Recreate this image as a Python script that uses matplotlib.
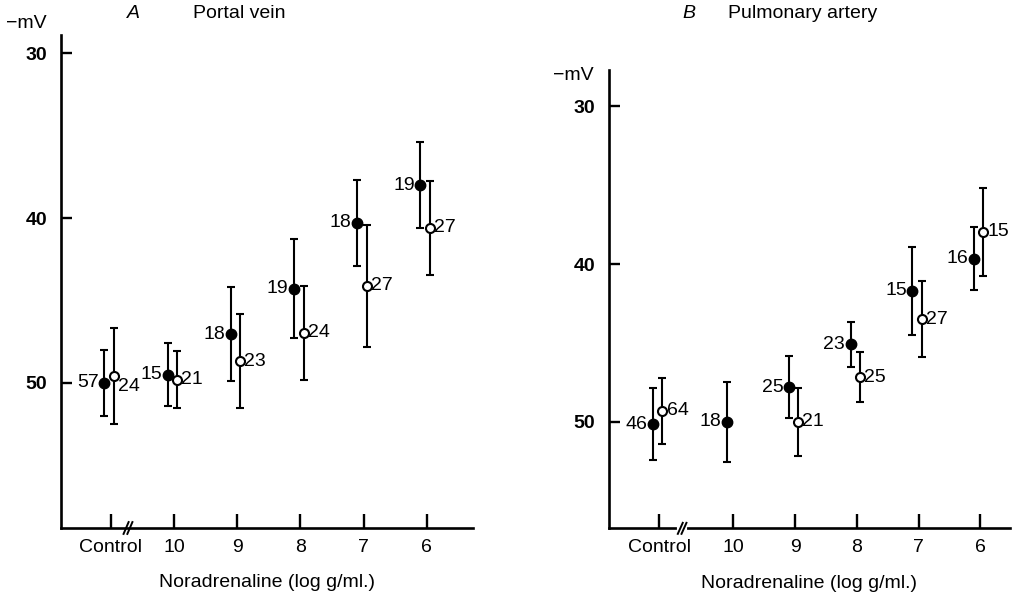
import matplotlib
matplotlib.use("Agg")
import matplotlib.pyplot as plt
from matplotlib.transforms import blended_transform_factory

plt.rcParams["font.family"] = ["Liberation Sans", "DejaVu Sans"]

# Categories (x ticks)
dose_labels = ["Control", "10", "9", "8", "7", "6"]

# Panel A - Portal vein (membrane potential, -mV)
a_filled_mean = [50.0, 49.5, 47.05, 44.3, 40.3, 38.0]
a_filled_err = [2.0, 1.9, 2.85, 3.0, 2.6, 2.6]
a_filled_n = ["57", "15", "18", "19", "18", "19"]
a_open_mean = [49.6, 49.8, 48.7, 46.95, 44.1, 40.6]
a_open_err = [2.9, 1.75, 2.85, 2.85, 3.7, 2.85]
a_open_n = ["24", "21", "23", "24", "27", "27"]

# Panel B - Pulmonary artery
b_filled_mean = [50.15, 50.0, 47.8, 45.1, 41.7, 39.66]
b_filled_err = [2.3, 2.55, 1.95, 1.4, 2.8, 2.0]
b_filled_n = ["46", "18", "25", "23", "15", "16"]
b_open_mean = [49.3, None, 50.0, 47.17, 43.5, 37.95]
b_open_err = [2.1, None, 2.15, 1.6, 2.4, 2.8]
b_open_n = ["64", None, "21", "25", "27", "15"]

FS = 14

fig = plt.figure(figsize=(10.18, 5.97), dpi=100)


def panel(rect, ctrl_pos, xlim, ylim, brk, gap, fm, fe, fn, om, oe, on):
    ax = fig.add_axes(rect)
    xs = [ctrl_pos, 1, 2, 3, 4, 5]
    for i, x in enumerate(xs):
        ax.errorbar(x - 0.1, fm[i], yerr=fe[i], fmt="o", color="black",
                    ms=7.5, elinewidth=1.5, capsize=2.8, capthick=1.5)
        ax.annotate(fn[i], (x - 0.1, fm[i]), xytext=(-4, 0),
                    textcoords="offset points", ha="right", va="center",
                    fontsize=FS)
        if om[i] is None:
            continue
        ax.errorbar(x + 0.05, om[i], yerr=oe[i], fmt="o", color="black",
                    mfc="white", mec="black", mew=1.5, ms=6.5,
                    elinewidth=1.5, capsize=2.8, capthick=1.5)
        dy = -7 if i == 0 and ctrl_pos == 0 else 0
        ax.annotate(on[i], (x + 0.05, om[i]), xytext=(3, dy),
                    textcoords="offset points", ha="left", va="center",
                    fontsize=FS)
    ax.set_xlim(*xlim)
    ax.set_ylim(*ylim)
    ax.set_xticks(xs)
    ax.set_xticklabels(dose_labels)
    ax.set_yticks([30, 40, 50])
    for lab in ax.get_yticklabels():
        lab.set_fontweight("bold")
    ax.spines["top"].set_visible(False)
    ax.spines["right"].set_visible(False)
    for s in ["left", "bottom"]:
        ax.spines[s].set_linewidth(1.9)
    ax.tick_params(axis="y", direction="in", length=8, width=1.7,
                   labelsize=FS, pad=10)
    ax.tick_params(axis="x", direction="in", length=10, width=1.7,
                   labelsize=FS, pad=8)
    ax.set_xlabel("Noradrenaline (log g/ml.)", fontsize=FS, labelpad=13)
    # axis break marks
    tr = blended_transform_factory(ax.transData, ax.transAxes)
    if gap:
        ax.plot([brk - 0.05, brk + 0.05], [0, 0], color="white", lw=3,
                transform=tr, clip_on=False, zorder=5)
    for d in (-0.03, 0.03):
        ax.plot([brk + d - 0.04, brk + d + 0.04], [-0.012, 0.012],
                color="black", lw=1.4, transform=tr, clip_on=False, zorder=6)
    return ax


ax_a = panel([0.0599, 0.1156, 0.4047, 0.8258], 0, (-0.787, 5.73),
             (58.8, 28.9), 0.273, False, a_filled_mean, a_filled_err,
             a_filled_n, a_open_mean, a_open_err, a_open_n)
ax_b = panel([0.5982, 0.115, 0.3939, 0.7677], -0.2, (-1.015, 5.48),
             (56.76, 27.7), 0.17, True, b_filled_mean, b_filled_err,
             b_filled_n, b_open_mean, b_open_err, b_open_n)

fig.text(26 / 1018, 1 - 23 / 597, "\u2212mV", fontsize=FS, ha="center", va="center")
fig.text(133 / 1018, 1 - 13 / 597, "A", fontsize=FS, style="italic",
         ha="center", va="center")
fig.text(193 / 1018, 1 - 13 / 597, "Portal vein", fontsize=FS, ha="left",
         va="center")
fig.text(573 / 1018, 1 - 75 / 597, "\u2212mV", fontsize=FS, ha="center", va="center")
fig.text(689 / 1018, 1 - 14 / 597, "B", fontsize=FS, style="italic",
         ha="center", va="center")
fig.text(728 / 1018, 1 - 14 / 597, "Pulmonary artery", fontsize=FS,
         ha="left", va="center")

fig.savefig("out.png", dpi=100)
